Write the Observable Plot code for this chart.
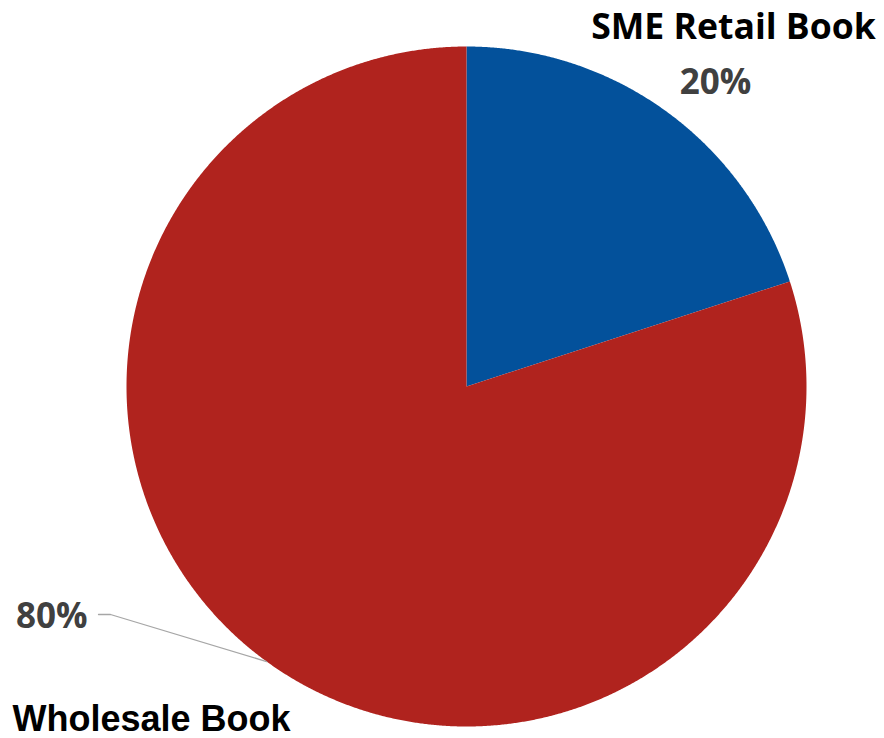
<!DOCTYPE html>
<html><head><meta charset="utf-8">
<script src="https://cdn.jsdelivr.net/npm/d3@7"></script>
<script src="https://cdn.jsdelivr.net/npm/@observablehq/plot@0.6"></script>
<style>html,body{margin:0;padding:0;background:#fff;}</style>
</head><body><div id="chart"></div>
<script>
// ---- data ----
const categories = ["SME Retail Book", "Wholesale Book"];
const shares = [20, 80];
const percentLabels = ["20%", "80%"];
const colors = ["#03519b", "#b0231e"];

// ---- layout (pixels, relative to pie centre; y up) ----
const W = 884, H = 738, R = 340, CX = 466, CY = 386;
const nameLayout = [
  {x: 267, y: 348, anchor: "middle", font: "'Open Sans', sans-serif", size: 35.6},
  {x: -454, y: -344, anchor: "start", font: "'Liberation Sans', Arial, sans-serif", size: 36}
];
const pctLayout = [
  {x: 249, y: 293, anchor: "middle"},
  {x: -379, y: -241, anchor: "end"}
];

const arcs = d3.pie().sort(null).value(d => d)(shares);
const slicePts = [];
arcs.forEach((p, i) => {
  const steps = Math.max(2, Math.ceil((p.endAngle - p.startAngle) / 0.004));
  slicePts.push({slice: categories[i], x: 0, y: 0});
  for (let k = 0; k <= steps; k++) {
    const a = p.startAngle + (p.endAngle - p.startAngle) * k / steps;
    slicePts.push({slice: categories[i], x: R * Math.sin(a), y: R * Math.cos(a)});
  }
});

// leader line for the wholesale percentage
const mid = (arcs[1].startAngle + arcs[1].endAngle) / 2;
const leader = [
  {x: pctLayout[1].x + 11, y: pctLayout[1].y + 13},
  {x: pctLayout[1].x + 23, y: pctLayout[1].y + 13},
  {x: R * Math.sin(mid), y: R * Math.cos(mid)}
];

const names = categories.map((c, i) => ({label: c, ...nameLayout[i]}));
const pcts = percentLabels.map((c, i) => ({label: c, ...pctLayout[i]}));

const plot = Plot.plot({
  width: W, height: H,
  margin: 0,
  style: {background: "#fff"},
  x: {domain: [-CX, W - CX], range: [0, W], axis: null},
  y: {domain: [CY, CY - H], range: [0, H], axis: null},
  color: {domain: categories, range: colors},
  marks: [
    Plot.line(slicePts, {x: "x", y: "y", z: "slice", fill: "slice", stroke: null, curve: "linear-closed"}),
    Plot.line(leader, {x: "x", y: "y", stroke: "#a6a6a6", strokeWidth: 1.3}),
    ...names.map(n => Plot.text([n], {x: "x", y: "y", text: "label", textAnchor: n.anchor, lineAnchor: "bottom",
      fontFamily: n.font, fontSize: n.size, fontWeight: "bold", fill: "#000"})),
    ...pcts.map(n => Plot.text([n], {x: "x", y: "y", text: "label", textAnchor: n.anchor, lineAnchor: "bottom",
      fontFamily: "'Open Sans', sans-serif", fontSize: 35, fontWeight: "bold", fill: "#404040"}))
  ]
});
document.getElementById("chart").appendChild(plot);
</script>
</body></html>
